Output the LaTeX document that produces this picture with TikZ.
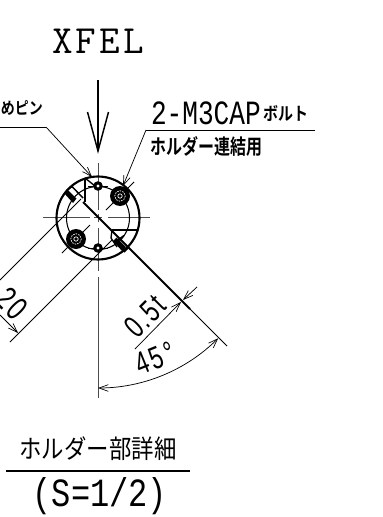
\documentclass[tikz,border=0pt]{standalone}
\usepackage{fontspec}
\usetikzlibrary{arrows.meta,calc}
\newfontfamily\jp{Noto Sans CJK JP}
\newfontfamily\jpb{Noto Sans CJK JP Bold}
\newfontfamily\monof{Liberation Mono}
\newfontfamily\dimf{Liberation Sans}
\newcommand{\txtsc}[3]{\scalebox{#1}[#2]{#3}}
\tikzset{
 thin line/.style={line width=0.55pt,black},
 center line/.style={line width=0.6pt,black!70},
 outline/.style={line width=1.6pt,black},
 open tip/.style={-{Straight Barb[length=7pt,width=5pt,line width=0.5pt]}},
 lbl/.style={inner sep=0pt,outer sep=0pt,anchor=center}
}
\begin{document}
\begin{tikzpicture}[x=0.75pt,y=-0.75pt]
\useasboundingbox (0,0) rectangle (382,517);
% anchors
\coordinate (c) at (98,218);
\coordinate (pinT) at (98,186);
\coordinate (pinB) at (98,248);
\coordinate (boltT) at (120,196);
\coordinate (boltB) at (76,239);
% centre lines
\draw[center line] (98,163) -- (98,210) (98,214) -- (98,222) (98,228) -- (98,271) (98,277) -- (98,398);
\draw[center line] (43,217.5) -- (90,217.5) (94,217.5) -- (102,217.5) (108,217.5) -- (150,217.5);
% XFEL
\node[lbl] (xfel) at (98,41.5) {\ttfamily\fontsize{30}{30}\selectfont X\kern2.2pt F\kern2.2pt E\kern2.2pt L};
\coordinate (xa) at (98,80);
\coordinate (xb) at (98,151);
\draw[line width=1.2pt] (xa) -- (xb);
\draw[line width=1.1pt] (87.5,112) -- (xb) -- (108.5,112);
% holder
\draw[outline] (c) circle (41.5);
\draw[line width=0.8pt] (c) circle (31.5);
% bolts
\foreach \b in {boltT,boltB}{
 \draw[thin line] ($(\b)+(-14,14)$) -- ($(\b)+(14,-14)$);
 \fill[black] (\b) circle (10);
 \draw[white,line width=0.5pt,dash pattern=on 1.2pt off 0.8pt] (\b) circle (5.3);
 \draw[white,line width=0.5pt] (\b) circle (2.2);
}
% pins
\foreach \p in {pinT,pinB}{
 \draw[thin line] ($(\p)+(-10,0)$) -- ($(\p)+(10,0)$);
 \fill[black] (\p) circle (4.8);
 \fill[white] (\p) circle (1.6);
}
% extension lines
\coordinate (e1) at (81,199);
\coordinate (e1b) at (0,280);
\coordinate (e2) at (112,240);
\coordinate (e2b) at (10,342);
\draw[thin line] (e1) -- (e1b);
\draw[thin line] (e2) -- (e2b);
% slots
\draw[line width=1pt] (85,178) -- (85,202);
\draw[line width=1pt] (85,178) -- (95,186);
\draw[line width=1pt] (112,230) -- (137,230);
\draw[line width=1pt] (112,230) -- (111,238) -- (117,247);
\draw[line width=1.1pt] (66,191) -- (72,186.5) -- (83,198);
\fill[black] (64,193) -- (67.5,189.5) -- (76.5,198.5) -- (73,203) -- cycle;
\draw[line width=1.1pt] (118,240) -- (124,235.5);
\draw[line width=1.1pt] (124,252) -- (129,247);
\fill[black] (113,241) -- (116.5,237.5) -- (126,247) -- (122.5,251.5) -- cycle;
% thick cut line
\coordinate (k) at (190,309);
\coordinate (kend) at (227,346);
\draw[line width=1.5pt] (83,202) -- (k);
\draw[thin line] (k) -- (kend);
% 20 dimension
\coordinate (d20) at (18,333);
\draw[thin line,open tip] (0,315) -- (d20);
\node[lbl,rotate=-45] (t20) at (12,304) {\txtsc{0.9}{1.25}{\dimf\fontsize{20}{20}\selectfont 2\kern2pt 0}};
% 0.5t
\coordinate (t1) at (135,349);
\coordinate (tm) at (181,302);
\coordinate (tm2) at (183,300);
\coordinate (t2) at (197,287);
\draw[thin line,open tip] (t1) -- (tm);
\draw[thin line,open tip] (t2) -- (tm2);
\node[lbl,rotate=45] (t05) at (145,316) {\txtsc{0.9}{1.25}{\dimf\fontsize{19}{19}\selectfont 0\kern1.5pt.\kern1.5pt 5\kern2pt t}};
% 45 deg arc
\draw[thin line,{Straight Barb[length=7pt,width=5pt,line width=0.5pt]}-{Straight Barb[length=7pt,width=5pt,line width=0.5pt]}]
  (98,388) arc[start angle=-90,end angle=-45,x radius=170,y radius=-170];
\node[lbl,rotate=22] (t45) at (155,358) {\txtsc{0.9}{1.25}{\dimf\fontsize{19}{19}\selectfont 4\kern1.5pt 5\kern3pt °}};
% leaders
\coordinate (l1a) at (0,127);
\coordinate (l1b) at (46,127);
\coordinate (l1c) at (92,177);
\draw[thin line] (l1a) -- (l1b);
\draw[thin line,open tip] (l1b) -- (l1c);
\node[lbl,anchor=east] (pintxt) at (43,108) {\txtsc{1}{1.2}{\jpb\fontsize{10.5}{10.5}\selectfont めピン}};
\coordinate (l2a) at (315,130);
\coordinate (l2b) at (146,130);
\coordinate (l2c) at (123,186);
\draw[thin line] (l2a) -- (l2b);
\draw[thin line,open tip] (l2b) -- (l2c);
\node[lbl,anchor=west] (m3) at (151,113) {\txtsc{1}{1.3}{\monof\fontsize{19.6}{19.6}\selectfont 2-M3CAP}};
\node[lbl,anchor=west] (bolt) at (263,113) {\txtsc{1}{1.2}{\jpb\fontsize{11.25}{11.25}\selectfont ボルト}};
\node[lbl,anchor=west] (use) at (150,146) {\txtsc{1}{1.3}{\jpb\fontsize{12}{12}\selectfont ホルダー連結用}};
% title
\node[lbl] (title) at (98,449) {\txtsc{1}{1.15}{\jp\fontsize{16.8}{16.8}\selectfont ホルダー部詳細}};
\coordinate (ta) at (6,470.5);
\coordinate (tb) at (190,470.5);
\draw[line width=1.5pt] (ta) -- (tb);
\node[lbl] (scale) at (100,496) {\txtsc{1}{1.25}{\monof\fontsize{24}{24}\selectfont (S=1/2)}};
\end{tikzpicture}
\end{document}
